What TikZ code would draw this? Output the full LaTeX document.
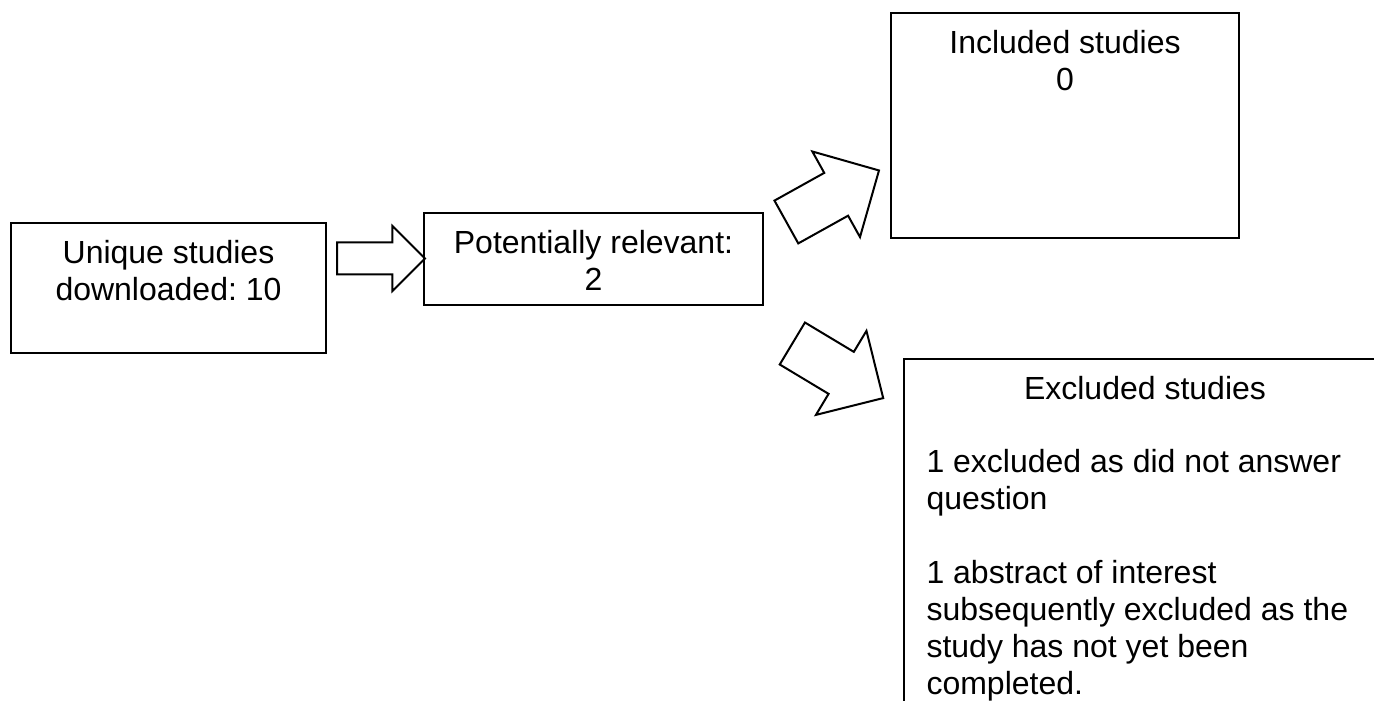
\documentclass[tikz,border=0pt]{standalone}
\usepackage{fontspec}
\setmainfont{Liberation Sans}
\usetikzlibrary{shapes.arrows,fit}
\frenchspacing

\begin{document}
\begin{tikzpicture}[x=0.375pt,y=0.375pt,yscale=-1,xscale=1,
  box/.style={draw, line width=0.75pt, rectangle, inner sep=0pt},
  txt/.style={font=\fontsize{12}{13.875}\selectfont, inner sep=0pt, anchor=base, align=center},
  blockarrow/.style={draw, line width=0.75pt, single arrow, anchor=tail, inner xsep=0pt,
    single arrow head indent=0pt}]
\useasboundingbox (0,0) rectangle (1374,701);
\clip (0,0) rectangle (1374,701);

%Shape: Rectangle [unique]
\node[box, fit={(11,223) (326,353)}] (unique) {};
%Shape: Rectangle [relevant]
\node[box, fit={(424,213) (763,305)}] (relevant) {};
%Shape: Rectangle [included]
\node[box, fit={(891,13) (1239,238)}] (included) {};
%Shape: Rectangle [excluded], cut off at the page edge
\node[box, fit={(904,359) (1386,740)}] (excluded) {};

%Shape: Right Arrow
\node[blockarrow, minimum height=33pt, inner ysep=5.625pt, single arrow head extend=6.19pt] (arr1) at (336,258.5) {};
%Shape: Right Arrow, turned up
\node[blockarrow, minimum height=39.75pt, inner ysep=8.81pt, single arrow head extend=9.19pt, rotate=29.1] (arr2) at (785.5,222.5) {};
%Shape: Right Arrow, turned down
\node[blockarrow, minimum height=39.75pt, inner ysep=8.81pt, single arrow head extend=9.19pt, rotate=-31] (arr3) at (791.5,343) {};

% Text Node (placed by the baseline of its last line)
\node[txt] (uniquetext) at (168.5,301) {Unique studies\\downloaded: 10};
% Text Node
\node[txt] (relevanttext) at (593.5,291) {Potentially relevant:\\2};
% Text Node
\node[txt] (includedtext) at (1065,91) {Included studies\\0};
% Text Node
\node[txt] (excludedhead) at (1145,400) {Excluded studies};
% Text Node
\node[txt, anchor=base west, align=left] (excludedtext) at (926,695) {1 excluded as did not answer\\question\\[13.875pt]1 abstract of interest\\subsequently excluded as the\\study has not yet been\\completed.};

\end{tikzpicture}
\end{document}
